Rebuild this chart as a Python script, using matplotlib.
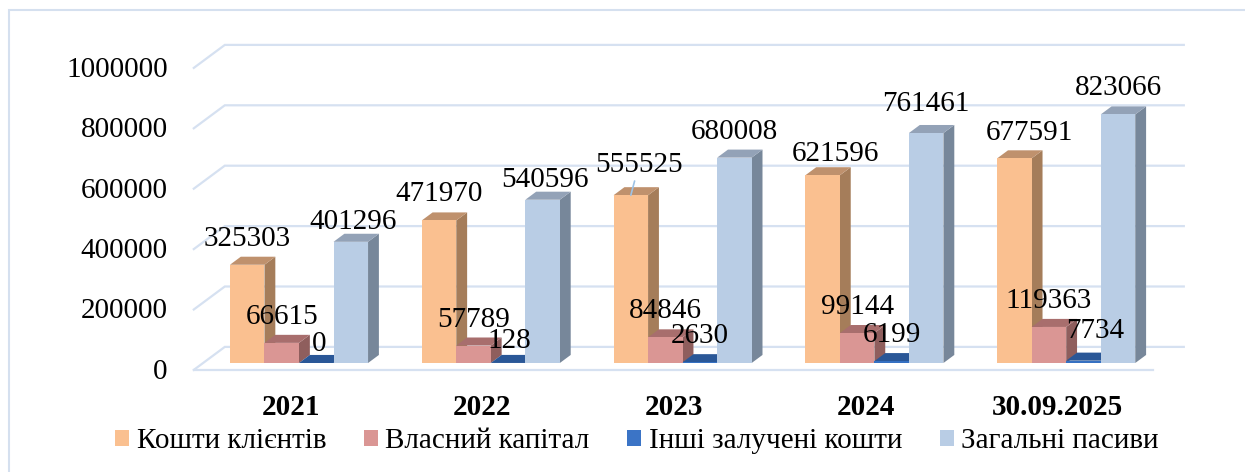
import matplotlib
matplotlib.use('Agg')
import matplotlib.pyplot as plt
from matplotlib.patches import Polygon, Patch, Rectangle

# ---------------- data ----------------
categories = ['2021', '2022', '2023', '2024', '30.09.2025']
series_names = ['Кошти клієнтів', 'Власний капітал', 'Інші залучені кошти', 'Загальні пасиви']
clients_funds = [325303, 471970, 555525, 621596, 677591]
equity = [66615, 57789, 84846, 99144, 119363]
other_borrowed = [0, 128, 2630, 6199, 7734]
total_liabilities = [401296, 540596, 680008, 761461, 823066]
y_ticks = [0, 200000, 400000, 600000, 800000, 1000000]

series = [clients_funds, equity, other_borrowed, total_liabilities]

# ---------------- styles ----------------
face_c = ['#FAC090', '#DA9694', '#3570C2', '#B9CDE5']
side_c = ['#A57D5A', '#8F5E5D', '#1F4A82', '#77879A']
top_c = ['#BF916D', '#A86E6D', '#2A5797', '#93A2B7']
legend_c = ['#FAC090', '#DA9694', '#3B74C6', '#B9CDE5']
grid_c = '#D6E1F1'
FONT = 'Liberation Serif'
FS = 21

# label nudges in pixels (Excel auto-placement), keyed by (series, category)
label_nudge = {(0, 2): (8, 4), (0, 3): (13, -5), (0, 4): (15, -1),
               (2, 0): (3, -7), (2, 1): (1, -4), (2, 4): (12, 4),
               (3, 0): (2, -6), (3, 1): (2, -6), (3, 3): (0, 3)}
leader_lines = {(0, 2)}

W, H, DPI = 1245, 472, 100
fig = plt.figure(figsize=(W / DPI, H / DPI), dpi=DPI)
fig.patch.set_facecolor('white')

# plot box (bar plane) in pixels
PX_CAT = 191.8
PX_M = 302.0
ax_left, ax_bottom = 203.1, 109.0
ax = fig.add_axes([ax_left / W, ax_bottom / H, 5 * PX_CAT / W, PX_M / H])
ax.set_xlim(-0.5, 4.5)
ax.set_ylim(0, 1e6)
ax.axis('off')

# depth vector (front wall -> back wall) in data units
Dx = 31 / PX_CAT
Dy = 23 / PX_M * 1e6
F = 0.30   # bar front plane depth
T = 0.35   # bar thickness


def P(x, v, d):
    return (x + (d - F) * Dx, v + (d - F) * Dy)


# gridlines: left wall + back wall
for v in y_ticks:
    pts = [P(-0.5, v, 0), P(-0.5, v, 1), P(4.5, v, 1)]
    ax.plot([p[0] for p in pts], [p[1] for p in pts], color=grid_c, lw=1.6,
            clip_on=False, zorder=1, solid_joinstyle='miter')
# floor front edge
p0, p1 = P(-0.5, 0, 0), P(4.5, 0, 0)
ax.plot([p0[0], p1[0]], [p0[1], p1[1]], color=grid_c, lw=1.6, clip_on=False, zorder=1)

# y tick labels on the front plane
for v in y_ticks:
    ax.annotate(f'{v}', xy=P(-0.5, v, 0), xytext=(-26, -2), textcoords='offset pixels',
                ha='right', va='center', fontsize=FS, family=FONT, annotation_clip=False)

# bars
w = 0.18
n = len(series)
for j, vals in enumerate(series):
    xs = [i - w * n / 2 + j * w for i in range(len(categories))]
    ax.bar(xs, vals, width=w, align='edge', color=face_c[j], zorder=3 + 2 * j + 1,
           clip_on=False, linewidth=0)
    for i, (x, v) in enumerate(zip(xs, vals)):
        side = [(x + w, 0), (x + w, v), P(x + w, v, F + T), P(x + w, 0, F + T)]
        ax.add_patch(Polygon(side, closed=True, facecolor=side_c[j], edgecolor='none',
                             zorder=3 + 2 * j, clip_on=False))
        top = [(x, v), (x + w, v), P(x + w, v, F + T), P(x, v, F + T)]
        ax.add_patch(Polygon(top, closed=True, facecolor=top_c[j], edgecolor='none',
                             zorder=3 + 2 * j, clip_on=False))

# data labels
for j, vals in enumerate(series):
    for i, v in enumerate(vals):
        xc = i - w * n / 2 + j * w + w / 2
        ndx, ndy = label_nudge.get((j, i), (0, 0))
        kw = {}
        if (j, i) in leader_lines:
            kw['arrowprops'] = dict(arrowstyle='-', color='#9DC3E6', lw=1.2,
                                    shrinkA=0, shrinkB=0)
        ax.annotate(f'{v}', xy=(xc, v), xytext=(ndx, 26 + ndy), textcoords='offset pixels',
                    ha='center', va='center', fontsize=FS, family=FONT, zorder=20,
                    annotation_clip=False, **kw)

# category labels
for i, cat in enumerate(categories):
    ax.annotate(cat, xy=P(i, 0, 0), xytext=(1, -38), textcoords='offset pixels',
                ha='center', va='center', fontsize=FS, fontweight='bold', family=FONT,
                annotation_clip=False)

# legend
handles = [Patch(facecolor=c, edgecolor='none') for c in legend_c]
fig.legend(handles, series_names, loc='center', bbox_to_anchor=(637 / W, 1 - 441 / H),
           ncol=4, frameon=False, prop={'family': FONT, 'size': FS},
           handlelength=0.48, handleheight=0.48, handletextpad=0.25, columnspacing=1.3,
           borderpad=0, borderaxespad=0)

# outer frame (left & top visible, rest cropped)
fig.patches.append(Rectangle((8.5 / W, -0.2), 2.0, 1.2 - 9.7 / H, transform=fig.transFigure,
                             fill=False, edgecolor='#D5E0EF', lw=1.5))

fig.savefig('out.png', dpi=DPI)
